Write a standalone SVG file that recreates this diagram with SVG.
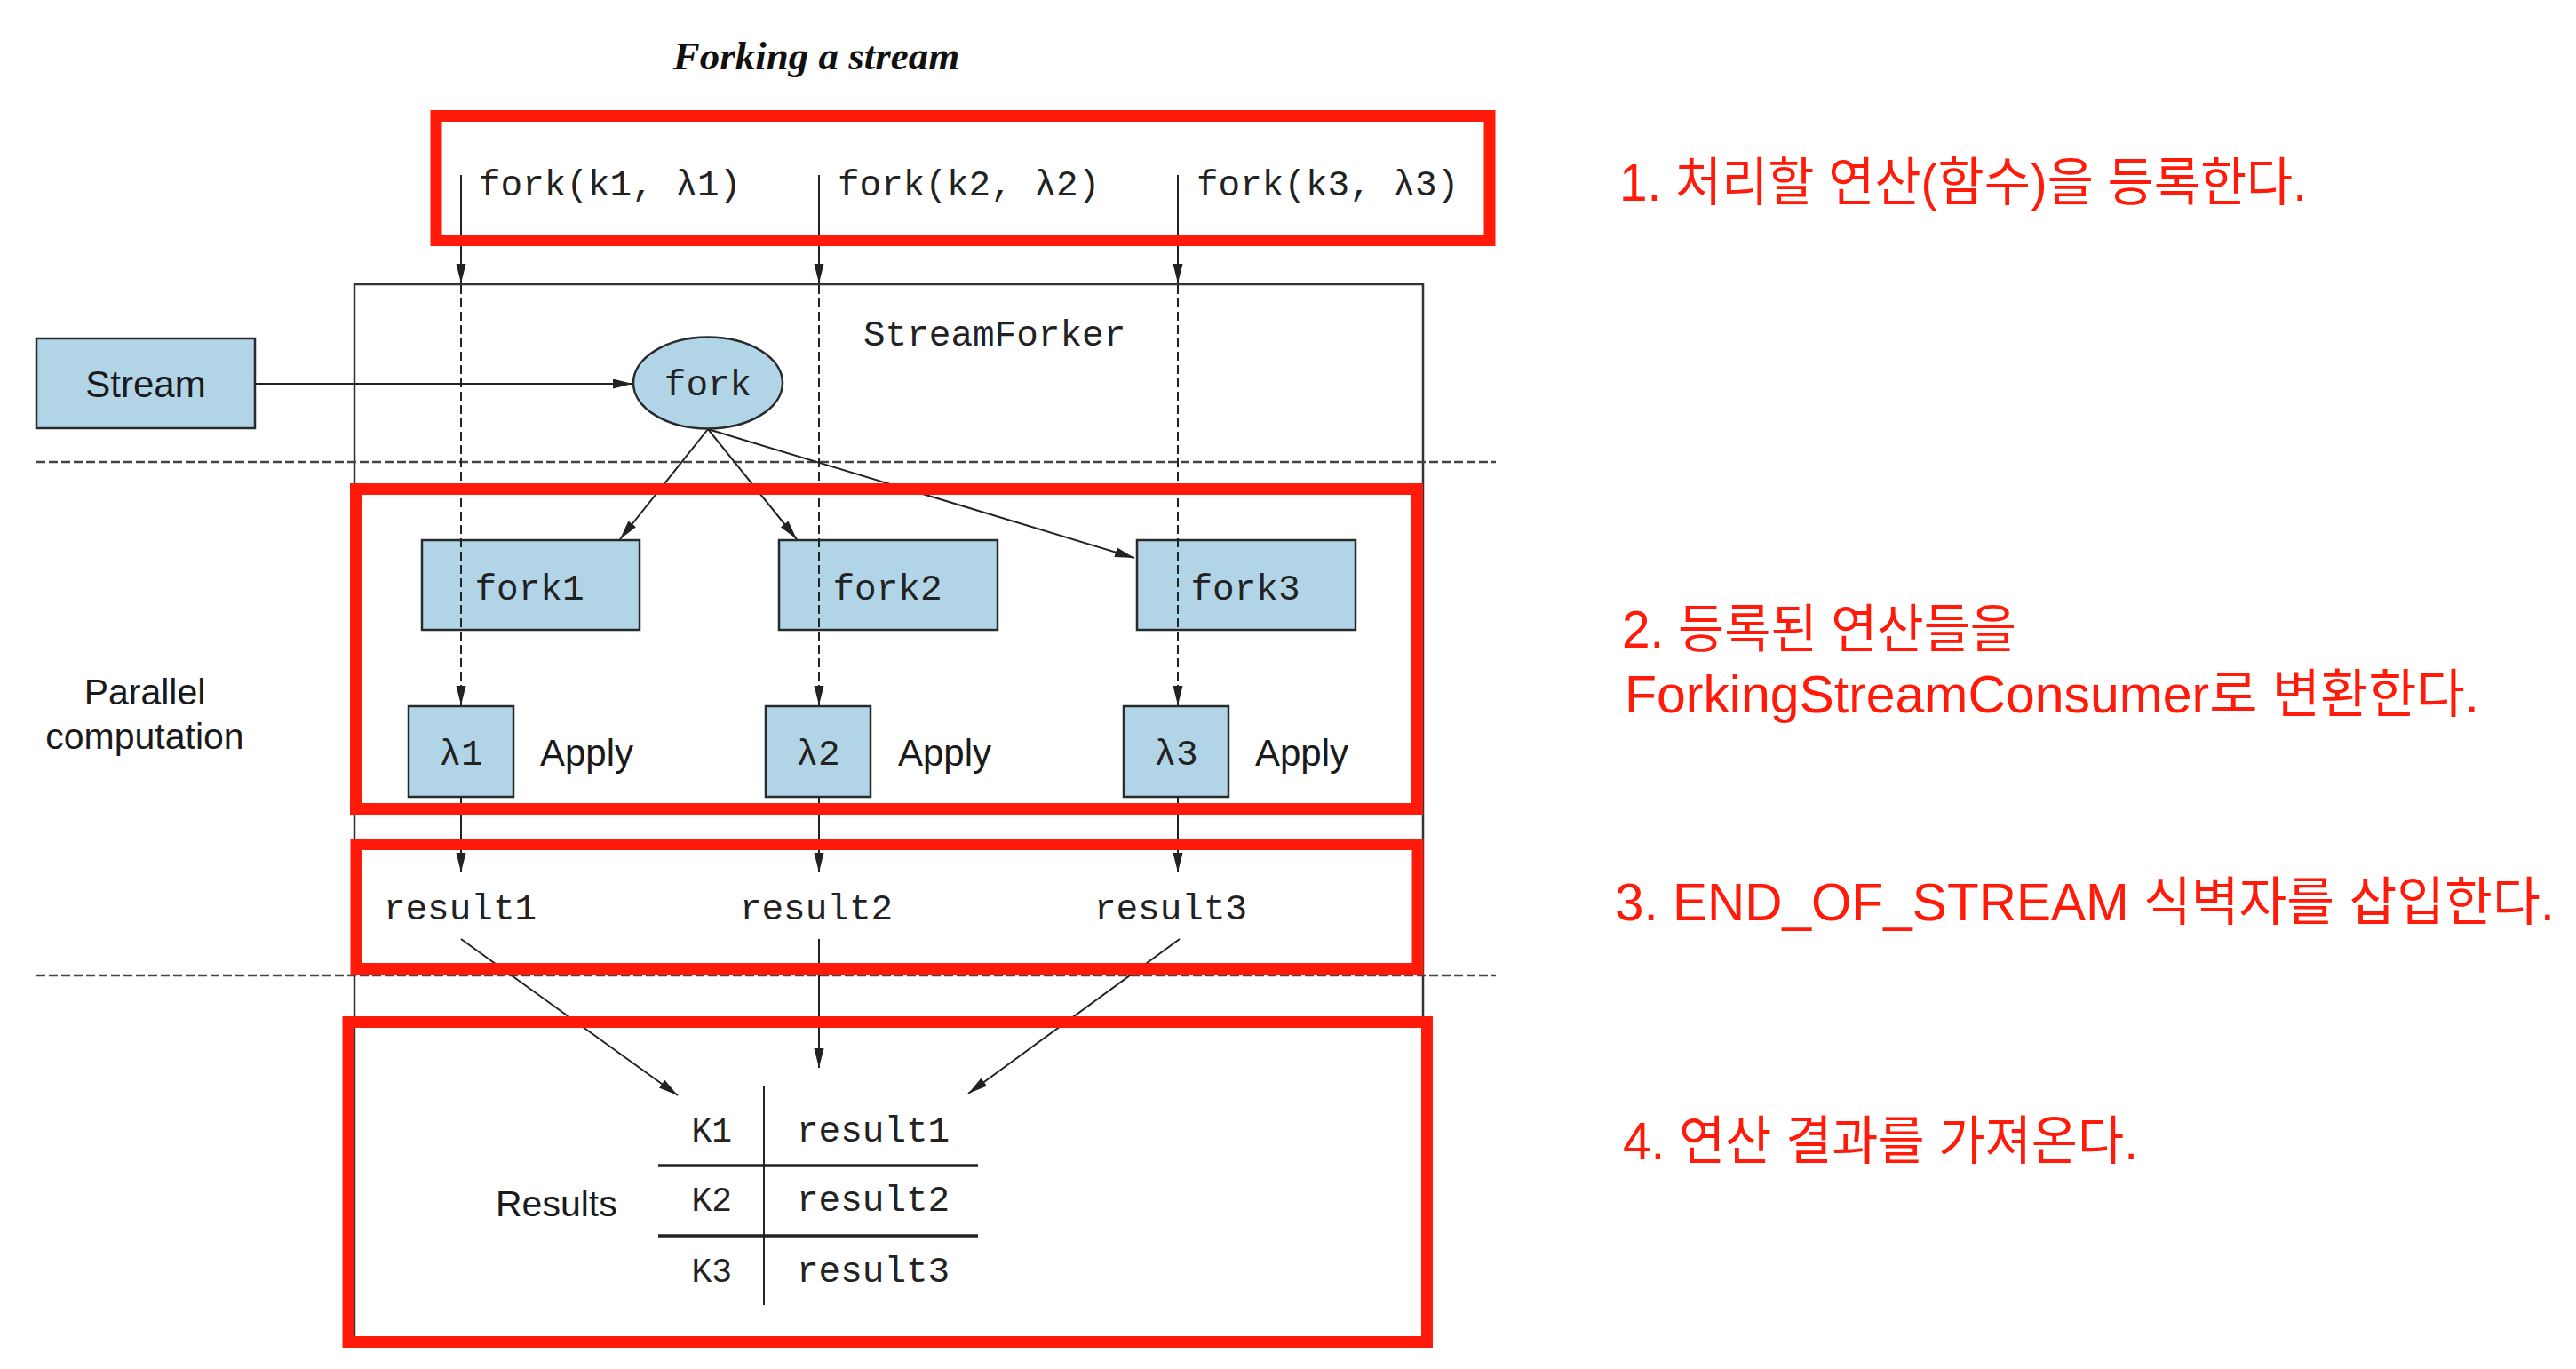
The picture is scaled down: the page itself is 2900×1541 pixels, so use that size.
<svg xmlns="http://www.w3.org/2000/svg" width="2900" height="1541" viewBox="0 0 2900 1541">
<style>
.mono{font-family:"Liberation Mono","DejaVu Sans Mono",monospace;font-size:41px;fill:#222}
.sans{font-family:"Liberation Sans",Arial,sans-serif;font-size:42px;fill:#1a1a1a}
.node{fill:#B1D4E6;stroke:#2a2a2a;stroke-width:2.5}
.ln{stroke:#222;stroke-width:2;fill:none}
.dash{stroke:#222;stroke-width:2;fill:none;stroke-dasharray:10 5}
.hdash{stroke:#444;stroke-width:2.5;fill:none;stroke-dasharray:10 4}
.red{fill:none;stroke:#FF1A0A;stroke-width:13}
.note{font-family:"Liberation Sans","Noto Sans CJK KR",sans-serif;font-size:59px;fill:#FF1A0A}
</style>
<defs>
<marker id="ah" markerUnits="userSpaceOnUse" markerWidth="24" markerHeight="12" refX="22" refY="5.5" orient="auto">
<path d="M0,0 L22,5.5 L0,11 z" fill="#222"/>
</marker>
</defs>
<rect width="2900" height="1541" fill="#fff"/>
<text x="919" y="78" text-anchor="middle" style="font-family:'Liberation Serif','Times New Roman',serif;font-size:45px;font-weight:bold;font-style:italic;fill:#111">Forking a stream</text>

<g id="streamforker">
<rect x="399" y="320" width="1203" height="1190" fill="none" stroke="#333" stroke-width="2.5"/>
<text class="mono" x="972" y="389">StreamForker</text>
</g>

<g id="separators">
<line class="hdash" x1="41" y1="520" x2="1684" y2="520"/>
<line class="hdash" x1="41" y1="1098" x2="1684" y2="1098"/>
</g>

<g id="stream"><rect class="node" x="41" y="381" width="246" height="101"/><text class="sans" x="164" y="447" text-anchor="middle">Stream</text></g>
<g id="fork"><ellipse class="node" cx="797" cy="431" rx="84" ry="51.5"/><text class="mono" x="797" y="445" text-anchor="middle">fork</text></g>
<g id="fork1"><rect class="node" x="475" y="608" width="245" height="101"/><text class="mono" x="596" y="675" text-anchor="middle">fork1</text></g>
<g id="fork2"><rect class="node" x="877" y="608" width="246" height="101"/><text class="mono" x="999" y="675" text-anchor="middle">fork2</text></g>
<g id="fork3"><rect class="node" x="1280" y="608" width="246" height="101"/><text class="mono" x="1402" y="675" text-anchor="middle">fork3</text></g>
<g id="lambda1"><rect class="node" x="460" y="795" width="118" height="102"/><text class="mono" x="519" y="861" text-anchor="middle">λ1</text></g>
<g id="lambda2"><rect class="node" x="862" y="795" width="118" height="102"/><text class="mono" x="921" y="861" text-anchor="middle">λ2</text></g>
<g id="lambda3"><rect class="node" x="1265" y="795" width="118" height="102"/><text class="mono" x="1324" y="861" text-anchor="middle">λ3</text></g>

<g id="labels">
<text class="mono" x="539" y="220">fork(k1, λ1)</text>
<text class="mono" x="943" y="220">fork(k2, λ2)</text>
<text class="mono" x="1347" y="220">fork(k3, λ3)</text>
<text class="sans" x="608" y="862">Apply</text>
<text class="sans" x="1011" y="862">Apply</text>
<text class="sans" x="1413" y="862">Apply</text>
<text class="sans" x="163" y="793" text-anchor="middle" style="font-size:41px">Parallel</text>
<text class="sans" x="163" y="843" text-anchor="middle" style="font-size:41px">computation</text>
<text class="mono" x="518" y="1035" text-anchor="middle">result1</text>
<text class="mono" x="919" y="1035" text-anchor="middle">result2</text>
<text class="mono" x="1318" y="1035" text-anchor="middle">result3</text>
</g>

<g id="results">
<text class="sans" x="558" y="1369" style="font-size:41px">Results</text>
<line class="ln" x1="860" y1="1222" x2="860" y2="1469"/>
<line x1="741" y1="1312" x2="1101" y2="1312" stroke="#222" stroke-width="3.5"/>
<line x1="741" y1="1391" x2="1101" y2="1391" stroke="#222" stroke-width="3.5"/>
<text class="mono" x="824" y="1285" text-anchor="end" style="font-size:38px">K1</text>
<text class="mono" x="824" y="1363" text-anchor="end" style="font-size:38px">K2</text>
<text class="mono" x="824" y="1443" text-anchor="end" style="font-size:38px">K3</text>
<text class="mono" x="897" y="1285">result1</text>
<text class="mono" x="897" y="1363">result2</text>
<text class="mono" x="897" y="1443">result3</text>
</g>

<g id="connectors">
<line class="ln" x1="519" y1="197" x2="519" y2="319" marker-end="url(#ah)"/>
<line class="ln" x1="922" y1="197" x2="922" y2="319" marker-end="url(#ah)"/>
<line class="ln" x1="1326" y1="197" x2="1326" y2="319" marker-end="url(#ah)"/>
<line class="dash" x1="519" y1="321" x2="519" y2="794" marker-end="url(#ah)"/>
<line class="dash" x1="922" y1="321" x2="922" y2="794" marker-end="url(#ah)"/>
<line class="dash" x1="1326" y1="321" x2="1326" y2="794" marker-end="url(#ah)"/>
<line class="ln" x1="519" y1="897" x2="519" y2="982" marker-end="url(#ah)"/>
<line class="ln" x1="922" y1="897" x2="922" y2="982" marker-end="url(#ah)"/>
<line class="ln" x1="1326" y1="897" x2="1326" y2="982" marker-end="url(#ah)"/>
<line class="ln" x1="287" y1="432" x2="712" y2="432" marker-end="url(#ah)"/>
<line class="ln" x1="797" y1="483" x2="698" y2="607" marker-end="url(#ah)"/>
<line class="ln" x1="797" y1="483" x2="897" y2="607" marker-end="url(#ah)"/>
<line class="ln" x1="797" y1="483" x2="1277" y2="628" marker-end="url(#ah)"/>
<line class="ln" x1="519" y1="1057" x2="763" y2="1233" marker-end="url(#ah)"/>
<line class="ln" x1="922" y1="1057" x2="922" y2="1202" marker-end="url(#ah)"/>
<line class="ln" x1="1328" y1="1057" x2="1090" y2="1231" marker-end="url(#ah)"/>
</g>

<g id="annotations">
<rect class="red" x="491" y="130.5" width="1186" height="140"/>
<rect class="red" x="400.5" y="550.5" width="1195" height="360"/>
<rect class="red" x="401" y="950.5" width="1195" height="140"/>
<rect class="red" x="392" y="1150.5" width="1214.5" height="360"/>
<text class="note" x="1823" y="226" textLength="774" lengthAdjust="spacingAndGlyphs">1. 처리할 연산(함수)을 등록한다.</text>
<text class="note" x="1826" y="729" textLength="444" lengthAdjust="spacingAndGlyphs">2. 등록된 연산들을</text>
<text class="note" x="1829" y="802" textLength="962" lengthAdjust="spacingAndGlyphs">ForkingStreamConsumer로 변환한다.</text>
<text class="note" x="1818" y="1036" textLength="1058" lengthAdjust="spacingAndGlyphs">3. END_OF_STREAM 식벽자를 삽입한다.</text>
<text class="note" x="1827" y="1305" textLength="580" lengthAdjust="spacingAndGlyphs">4. 연산 결과를 가져온다.</text>
</g>
</svg>
